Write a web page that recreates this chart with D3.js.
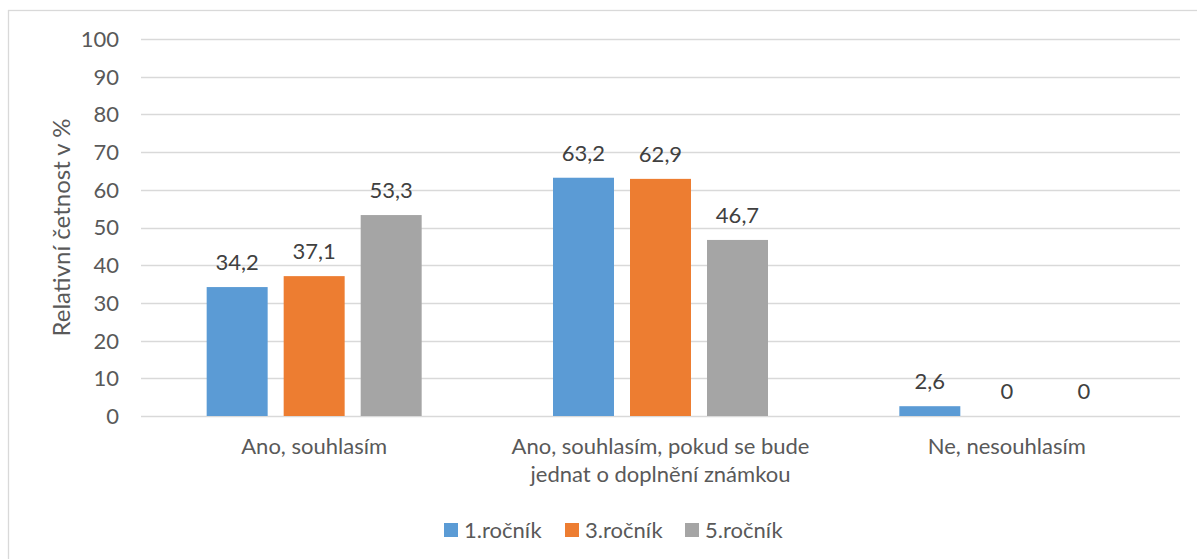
<!DOCTYPE html>
<html>
<head>
<meta charset="utf-8">
<script src="https://cdn.jsdelivr.net/npm/d3@7"></script>
<style>
  body { margin: 0; background: #fff; }
  svg text { font-family: Lato, "Open Sans", sans-serif; }
</style>
</head>
<body>
<div id="chart"></div>
<script>
// Data
var categories = ["Ano, souhlasím", "Ano, souhlasím, pokud se bude|jednat o doplnění známkou", "Ne, nesouhlasím"];
var seriesNames = ["1.ročník", "3.ročník", "5.ročník"];
var seriesColors = ["#5B9BD5", "#ED7D31", "#A5A5A5"];
var values1 = [34.2, 63.2, 2.6];
var values3 = [37.1, 62.9, 0];
var values5 = [53.3, 46.7, 0];
var yTicks = [0, 10, 20, 30, 40, 50, 60, 70, 80, 90, 100];

var seriesValues = [values1, values3, values5];

var width = 1197, height = 559;
var plotLeft = 141, plotRight = 1180, plotTop = 39, plotBottom = 416;
var fontSize = 22;

var svg = d3.select("#chart").append("svg")
    .attr("width", width)
    .attr("height", height);

// rámeček grafu
svg.append("rect")
    .attr("x", 8.5).attr("y", 10.5)
    .attr("width", 1300).attr("height", 700)
    .attr("fill", "none")
    .attr("stroke", "#D9D9D9")
    .attr("stroke-width", 1.3);

var y = d3.scaleLinear().domain([0, 100]).range([plotBottom, plotTop]);
var x0 = d3.scaleBand().domain(categories).range([plotLeft, plotRight]).padding(0);
var groupW = 215;
var x1 = d3.scaleBand().domain(seriesNames).range([0, groupW]).paddingInner(0.208).paddingOuter(0);

// mřížka
svg.append("g").selectAll("line")
    .data(yTicks)
    .enter().append("line")
    .attr("x1", plotLeft).attr("x2", plotRight)
    .attr("y1", function(d) { return Math.round(y(d)) + 0.5; })
    .attr("y2", function(d) { return Math.round(y(d)) + 0.5; })
    .attr("stroke", "#D9D9D9")
    .attr("stroke-width", 1.3);

// popisky osy y
svg.append("g").selectAll("text")
    .data(yTicks)
    .enter().append("text")
    .attr("x", 119)
    .attr("y", function(d) { return y(d); })
    .attr("dy", "0.36em")
    .attr("text-anchor", "end")
    .attr("font-size", fontSize)
    .attr("fill", "#595959")
    .text(function(d) { return d; });

// název osy y
svg.append("text")
    .attr("transform", "translate(70," + ((plotTop + plotBottom) / 2) + ") rotate(-90)")
    .attr("text-anchor", "middle")
    .attr("font-size", 24)
    .attr("fill", "#595959")
    .text("Relativní četnost v %");

// sloupce
var groups = svg.append("g").selectAll("g")
    .data(categories)
    .enter().append("g")
    .attr("transform", function(d) { return "translate(" + (x0(d) + (x0.bandwidth() - groupW) / 2) + ",0)"; });

groups.selectAll("rect")
    .data(function(d, i) { return seriesNames.map(function(s, j) { return { s: s, v: seriesValues[j][i], c: seriesColors[j] }; }); })
    .enter().append("rect")
    .attr("x", function(d) { return x1(d.s); })
    .attr("width", x1.bandwidth())
    .attr("y", function(d) { return y(d.v); })
    .attr("height", function(d) { return plotBottom - y(d.v); })
    .attr("fill", function(d) { return d.c; });

groups.selectAll("text")
    .data(function(d, i) { return seriesNames.map(function(s, j) { return { s: s, v: seriesValues[j][i] }; }); })
    .enter().append("text")
    .attr("x", function(d) { return x1(d.s) + x1.bandwidth() / 2; })
    .attr("y", function(d) { return y(d.v) - 17; })
    .attr("text-anchor", "middle")
    .attr("font-size", fontSize)
    .attr("fill", "#404040")
    .text(function(d) { return String(d.v).replace(".", ","); });

// popisky kategorií
var catText = svg.append("g").selectAll("text")
    .data(categories)
    .enter().append("text")
    .attr("y", 454)
    .attr("text-anchor", "middle")
    .attr("font-size", fontSize)
    .attr("fill", "#595959");

catText.selectAll("tspan")
    .data(function(d) { return d.split("|").map(function(t) { return { t: t, c: d }; }); })
    .enter().append("tspan")
    .attr("x", function(d) { return x0(d.c) + x0.bandwidth() / 2; })
    .attr("dy", function(d, i) { return i === 0 ? 0 : 28; })
    .text(function(d) { return d.t; });

// legenda
var legendX = [444, 565, 685];
var legend = svg.append("g").selectAll("g")
    .data(seriesNames)
    .enter().append("g")
    .attr("transform", function(d, i) { return "translate(" + legendX[i] + ",523)"; });

legend.append("rect")
    .attr("width", 14).attr("height", 14)
    .attr("fill", function(d, i) { return seriesColors[i]; });

legend.append("text")
    .attr("x", 20).attr("y", 7)
    .attr("dy", "0.36em")
    .attr("font-size", fontSize)
    .attr("fill", "#595959")
    .text(function(d) { return d; });
</script>
</body>
</html>
